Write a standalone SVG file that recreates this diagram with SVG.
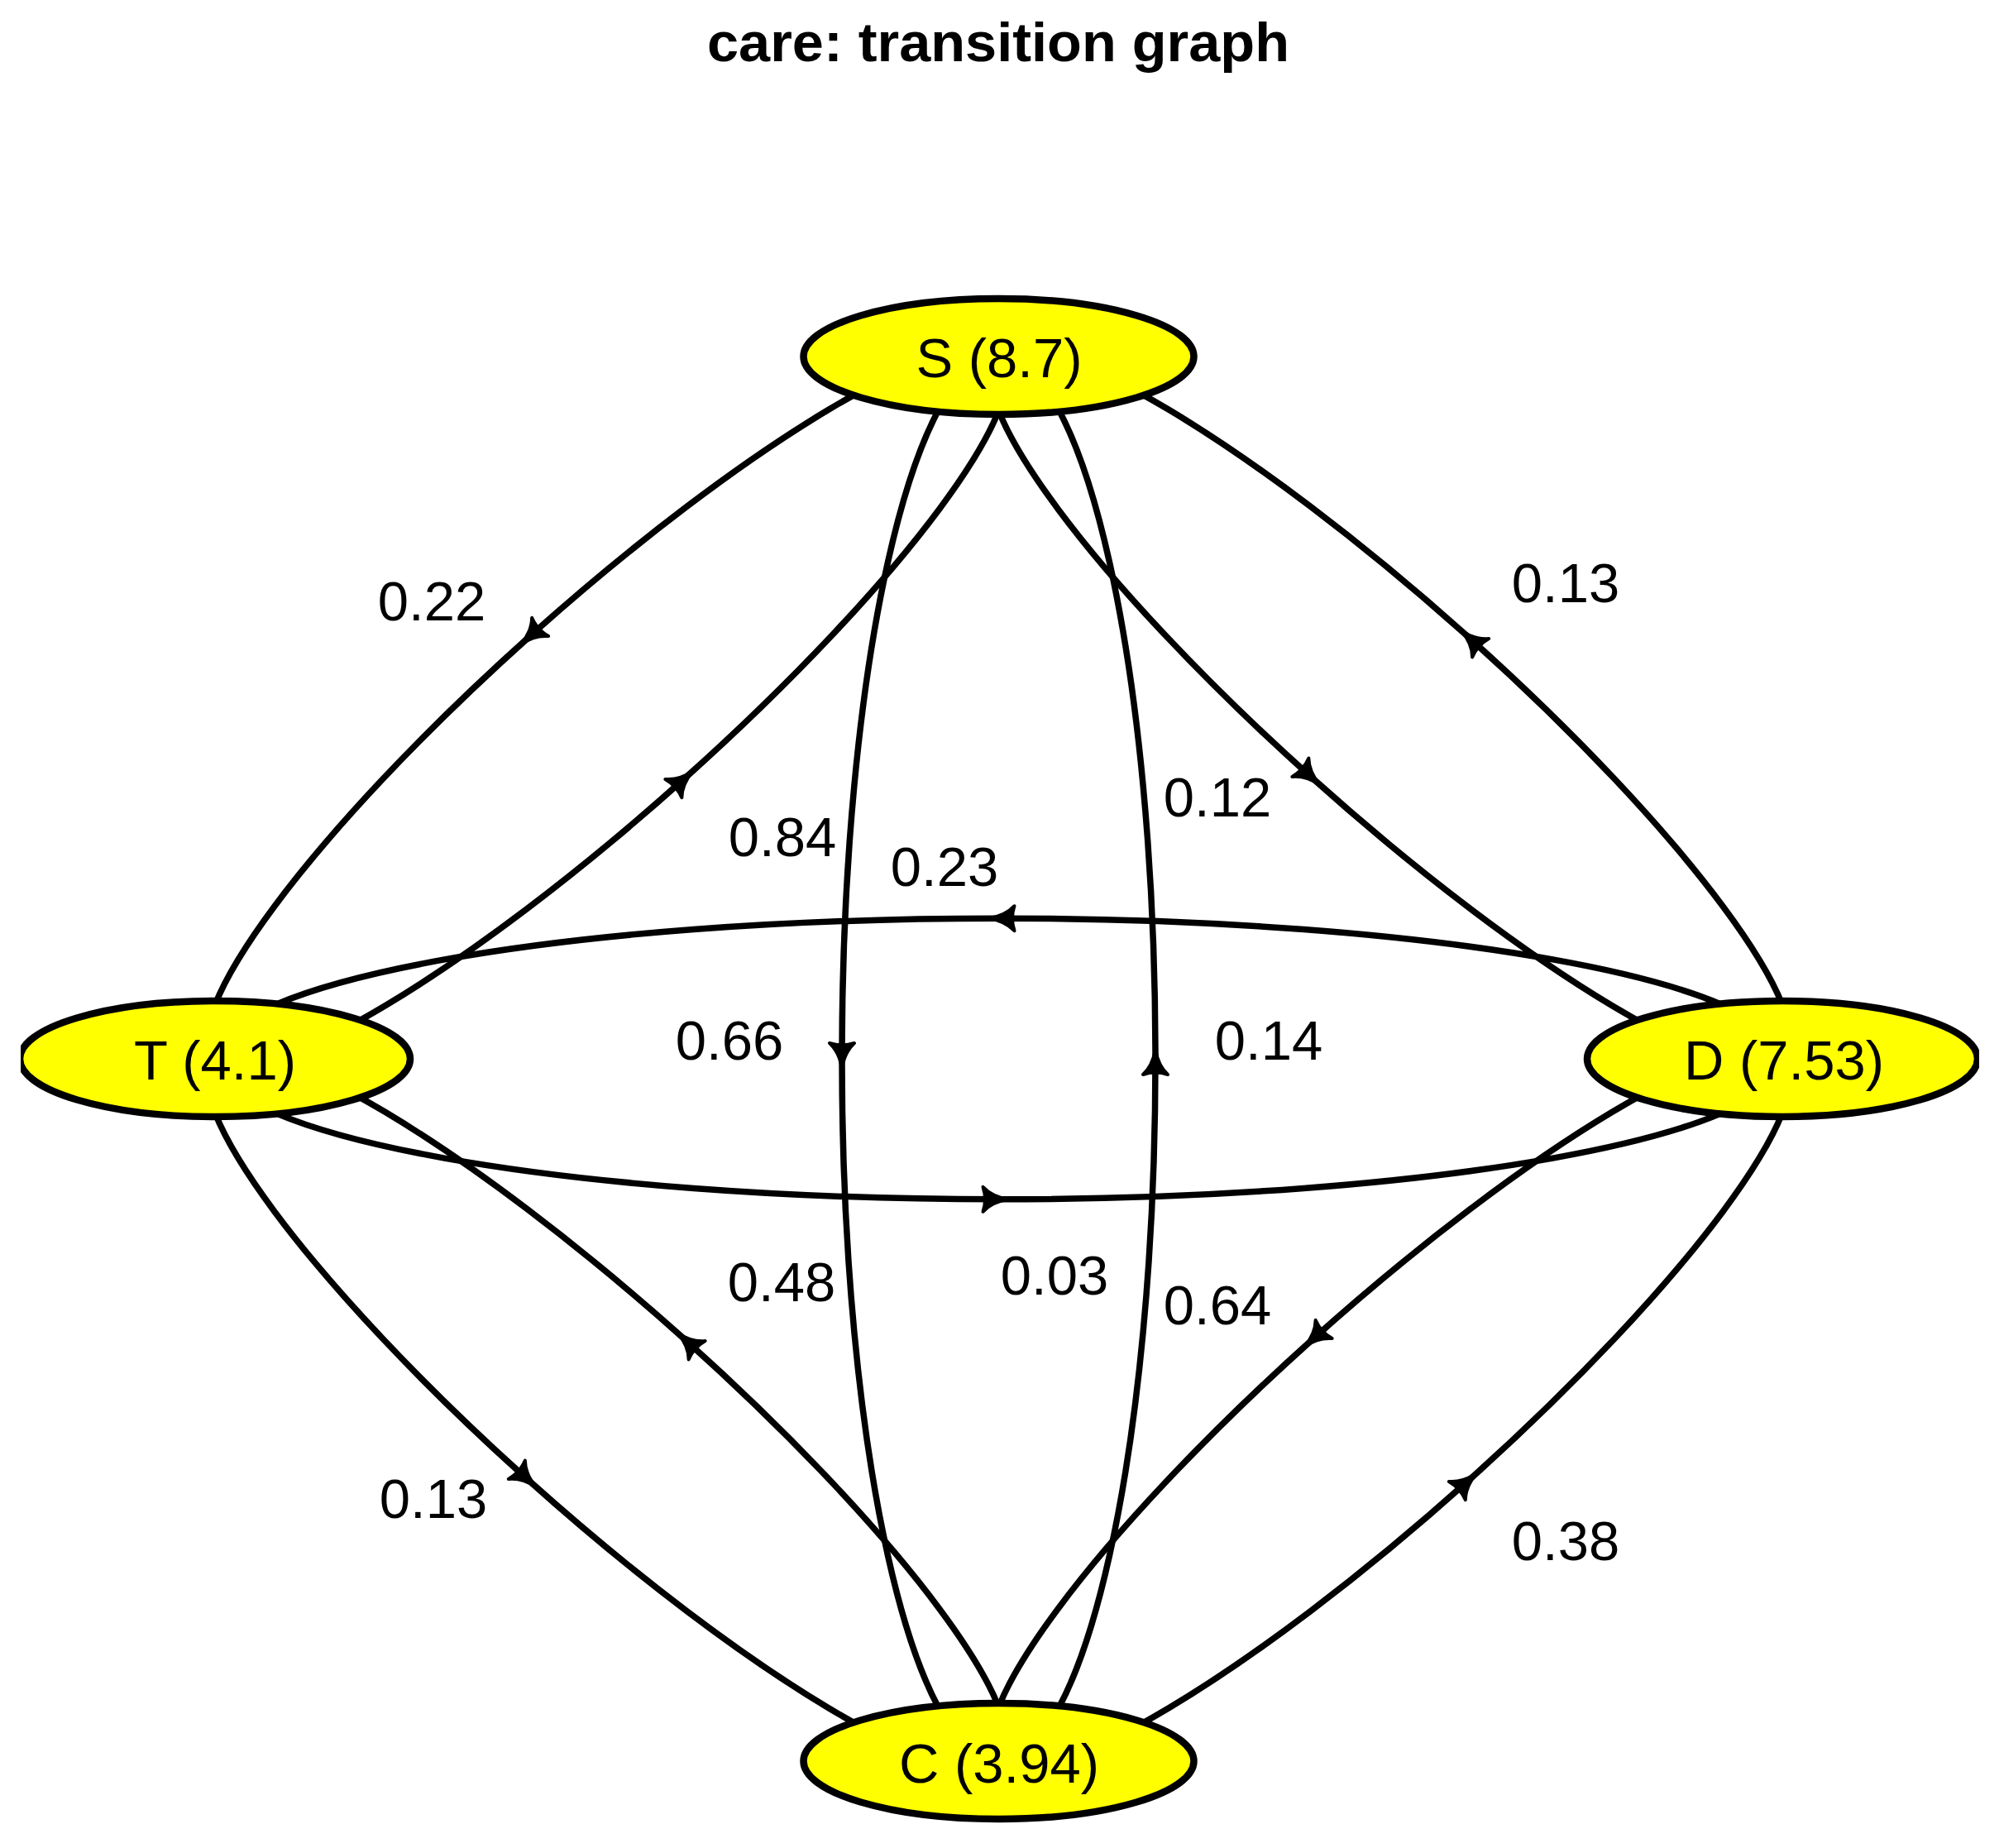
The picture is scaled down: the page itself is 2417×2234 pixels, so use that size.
<svg xmlns="http://www.w3.org/2000/svg" xmlns:xlink="http://www.w3.org/1999/xlink" width="2417" height="2234" viewBox="0 0 2417 2234">
<style>
.e{fill:none;stroke:#000;stroke-width:7.5}
.ah{fill:#000;stroke:#000;stroke-width:4;stroke-linejoin:round}
.n{fill:#ffff00;stroke:#000;stroke-width:8.5}
.t{font-family:"Liberation Sans",Arial,sans-serif;font-size:67px;fill:#000;text-anchor:middle}
.title{font-family:"Liberation Sans",Arial,sans-serif;font-size:66px;font-weight:bold;fill:#000;text-anchor:middle}
</style>
<defs>
<path id="ah" d="M12,0 Q-8,-3 -19,-15 Q-14,0 -19,15 Q-8,3 12,0 Z"/>
<clipPath id="plot"><rect x="25" y="0" width="2368" height="2234"/></clipPath>
</defs>
<rect width="2417" height="2234" fill="#fff"/>
<text class="title" x="1207" y="74" textLength="704" lengthAdjust="spacingAndGlyphs">care: transition graph</text>
<g id="connectors">
<path class="e" d="M1207.5,431 C1155.2,384.1 900.7,536.2 639,770.6 C377.4,1005.1 207.7,1233.1 260,1280"/>
<path class="e" d="M260,1280 C312.3,1326.9 566.9,1174.9 828.5,940.4 C1090.2,706 1259.8,477.9 1207.5,431"/>
<path class="e" d="M1207.5,431 C1102.8,431 1018,811.1 1018,1280 C1018,1748.9 1102.8,2129 1207.5,2129"/>
<path class="e" d="M1207.5,2129 C1312.2,2129 1397,1748.9 1397,1280 C1397,811.1 1312.2,431 1207.5,431"/>
<path class="e" d="M1207.5,431 C1155.2,477.9 1324.9,706 1586.5,940.4 C1848.2,1174.9 2102.7,1326.9 2155,1280"/>
<path class="e" d="M2155,1280 C2207.3,1233.1 2037.7,1005.1 1776,770.6 C1514.4,536.2 1259.8,384.1 1207.5,431"/>
<path class="e" d="M2155,1280 C2155,1186.2 1730.8,1110.2 1207.5,1110.2 C684.2,1110.2 260,1186.2 260,1280"/>
<path class="e" d="M260,1280 C260,1373.8 684.2,1449.8 1207.5,1449.8 C1730.8,1449.8 2155,1373.8 2155,1280"/>
<path class="e" d="M260,1280 C207.7,1326.9 377.4,1555 639,1789.4 C900.7,2023.9 1155.2,2175.9 1207.5,2129"/>
<path class="e" d="M1207.5,2129 C1259.8,2082.1 1090.2,1854.1 828.5,1619.6 C566.9,1385.2 312.3,1233.1 260,1280"/>
<path class="e" d="M2155,1280 C2102.7,1233.1 1848.2,1385.2 1586.5,1619.6 C1324.9,1854.1 1155.2,2082.1 1207.5,2129"/>
<path class="e" d="M1207.5,2129 C1259.8,2175.9 1514.4,2023.9 1776,1789.4 C2037.7,1555 2207.3,1326.9 2155,1280"/>
<use href="#ah" class="ah" transform="translate(639,770.6) rotate(138.14)"/>
<use href="#ah" class="ah" transform="translate(828.5,940.4) rotate(-41.86)"/>
<use href="#ah" class="ah" transform="translate(1018,1280) rotate(90)"/>
<use href="#ah" class="ah" transform="translate(1397,1280) rotate(-90)"/>
<use href="#ah" class="ah" transform="translate(1586.5,940.4) rotate(41.86)"/>
<use href="#ah" class="ah" transform="translate(1776,770.6) rotate(-138.14)"/>
<use href="#ah" class="ah" transform="translate(1207.5,1110.2) rotate(180)"/>
<use href="#ah" class="ah" transform="translate(1207.5,1449.8) rotate(0)"/>
<use href="#ah" class="ah" transform="translate(639,1789.4) rotate(41.86)"/>
<use href="#ah" class="ah" transform="translate(828.5,1619.6) rotate(-138.14)"/>
<use href="#ah" class="ah" transform="translate(1586.5,1619.6) rotate(138.14)"/>
<use href="#ah" class="ah" transform="translate(1776,1789.4) rotate(-41.86)"/>
<text class="t" x="522" y="750">0.22</text>
<text class="t" x="946" y="1035">0.84</text>
<text class="t" x="882" y="1281">0.66</text>
<text class="t" x="1534" y="1281">0.14</text>
<text class="t" x="1472" y="987">0.12</text>
<text class="t" x="1893" y="728">0.13</text>
<text class="t" x="1142" y="1071">0.23</text>
<text class="t" x="1275" y="1565">0.03</text>
<text class="t" x="524" y="1835">0.13</text>
<text class="t" x="945" y="1573">0.48</text>
<text class="t" x="1472" y="1601">0.64</text>
<text class="t" x="1893" y="1886">0.38</text>
</g>
<g clip-path="url(#plot)">
<g id="node-S"><ellipse class="n" cx="1207.5" cy="431" rx="236" ry="70"/><text class="t" x="1208" y="456">S (8.7)</text></g>
<g id="node-T"><ellipse class="n" cx="260" cy="1280" rx="236" ry="70"/><text class="t" x="260" y="1305">T (4.1)</text></g>
<g id="node-D"><ellipse class="n" cx="2155" cy="1280" rx="236" ry="70"/><text class="t" x="2157" y="1305">D (7.53)</text></g>
<g id="node-C"><ellipse class="n" cx="1207.5" cy="2129" rx="236" ry="70"/><text class="t" x="1208" y="2155">C (3.94)</text></g>
</g>
</svg>
